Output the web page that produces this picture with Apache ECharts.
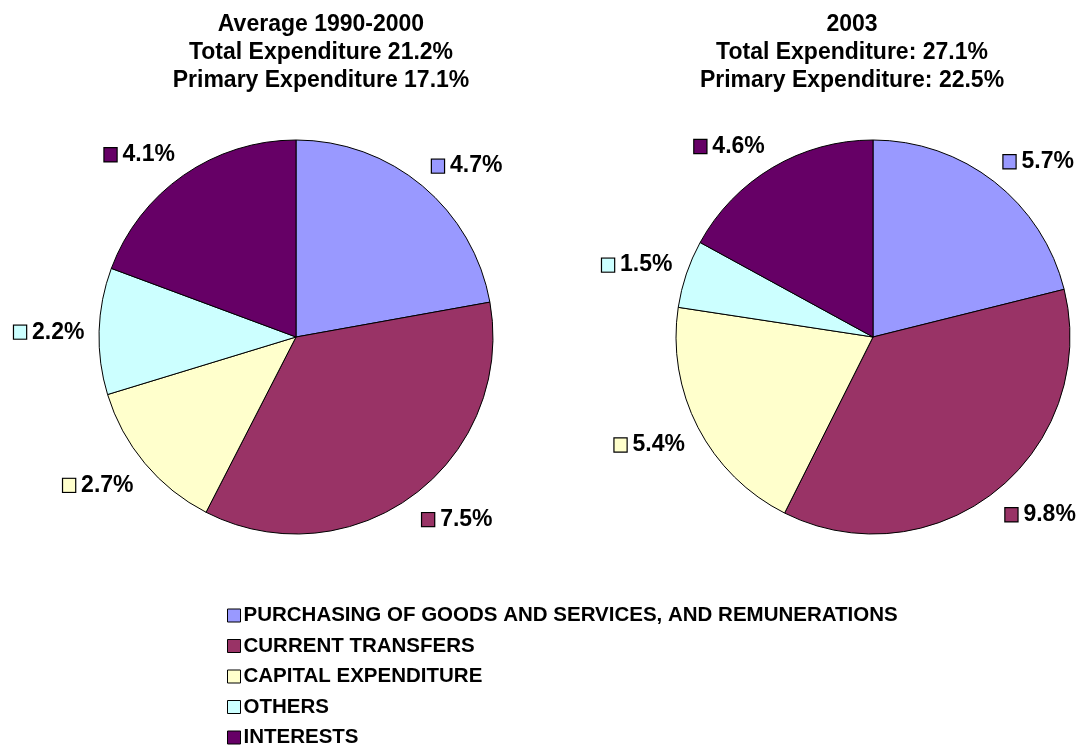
<!DOCTYPE html>
<html>
<head>
<meta charset="utf-8">
<script src="https://cdn.jsdelivr.net/npm/echarts@6/dist/echarts.min.js"></script>
<style>
  html, body { margin: 0; padding: 0; background: #ffffff; }
  #chart { width: 1083px; height: 748px; }
</style>
</head>
<body>
<div id="chart"></div>
<script>
// Expenditure components, as % of GDP
const categories = [
  'PURCHASING OF GOODS AND SERVICES, AND REMUNERATIONS',
  'CURRENT TRANSFERS',
  'CAPITAL EXPENDITURE',
  'OTHERS',
  'INTERESTS'
];
const avg1990to2000 = [4.7, 7.5, 2.7, 2.2, 4.1];
const year2003 = [5.7, 9.8, 5.4, 1.5, 4.6];
const titleLeft = 'Average 1990-2000\nTotal Expenditure 21.2%\nPrimary Expenditure 17.1%';
const titleRight = '2003\nTotal Expenditure: 27.1%\nPrimary Expenditure: 22.5%';

const colors = ['#9999FF', '#993366', '#FFFFCC', '#CCFFFF', '#660066'];
const FONT = 'Liberation Sans, Arial, sans-serif';

const RADIUS = 197;
const CENTERS = [[296, 337], [873, 337]];
const SERIES_VALUES = [avg1990to2000, year2003];
const LABEL_GAP = 14;

// one rich style per category so each label carries its own colour swatch
const rich = { t: { fontFamily: FONT, fontWeight: 'bold', fontSize: 23, color: '#000', padding: [0, 0, 0, 6] } };
colors.forEach((c, i) => {
  rich['s' + i] = { width: 12, height: 13, backgroundColor: c, borderColor: '#000', borderWidth: 1.2 };
});

const clamp = v => Math.max(-1, Math.min(1, v));

// Place each label box just outside the rim at the slice's mid-angle,
// pushing the box away from the pie by its own half-size.
function placeLabel(params) {
  const values = SERIES_VALUES[params.seriesIndex];
  const [cx, cy] = CENTERS[params.seriesIndex];
  const total = values.reduce((a, b) => a + b, 0);
  let before = 0;
  for (let i = 0; i < params.dataIndex; i++) before += values[i];
  const mid = (before + values[params.dataIndex] / 2) / total * Math.PI * 2;
  const ux = Math.sin(mid), uy = -Math.cos(mid);
  const w = params.labelRect.width / 2, h = 11;
  return {
    x: cx + ux * (RADIUS + LABEL_GAP) + w * clamp(2 * ux),
    y: cy + uy * (RADIUS + LABEL_GAP) + h * clamp(1.8 * uy) + 2,
    align: 'center',
    verticalAlign: 'middle'
  };
}

function pieSeries(values, center) {
  return {
    type: 'pie',
    radius: RADIUS,
    center: center,
    startAngle: 90,
    clockwise: true,
    avoidLabelOverlap: false,
    animation: false,
    itemStyle: { borderColor: '#000', borderWidth: 1 },
    label: {
      show: true,
      position: 'outside',
      formatter: p => '{s' + p.dataIndex + '|}{t|' + p.value.toFixed(1) + '%}',
      rich: rich
    },
    labelLine: { show: false, length: 14, length2: 0 },
    labelLayout: placeLabel,
    emphasis: { disabled: true },
    data: categories.map((name, i) => ({ name: name, value: values[i] }))
  };
}

const titleStyle = { fontFamily: FONT, fontWeight: 'bold', fontSize: 23, lineHeight: 28, color: '#000' };

const chart = echarts.init(document.getElementById('chart'), null, { renderer: 'canvas' });
chart.setOption({
  color: colors,
  animation: false,
  title: [
    { text: titleLeft, left: 316, top: 6, textAlign: 'center', textStyle: titleStyle },
    { text: titleRight, left: 847, top: 6, textAlign: 'center', textStyle: titleStyle }
  ],
  legend: {
    orient: 'vertical',
    left: 222,
    top: 600,
    height: 160,
    itemWidth: 13,
    itemHeight: 13,
    itemGap: 9.5,
    icon: 'rect',
    itemStyle: { borderColor: '#000', borderWidth: 1 },
    textStyle: { fontFamily: FONT, fontWeight: 'bold', fontSize: 20.5, color: '#000', padding: [0, 0, 0, -2] },
    selectedMode: false,
    data: categories
  },
  series: [
    pieSeries(avg1990to2000, CENTERS[0]),
    pieSeries(year2003, CENTERS[1])
  ]
});
</script>
</body>
</html>
